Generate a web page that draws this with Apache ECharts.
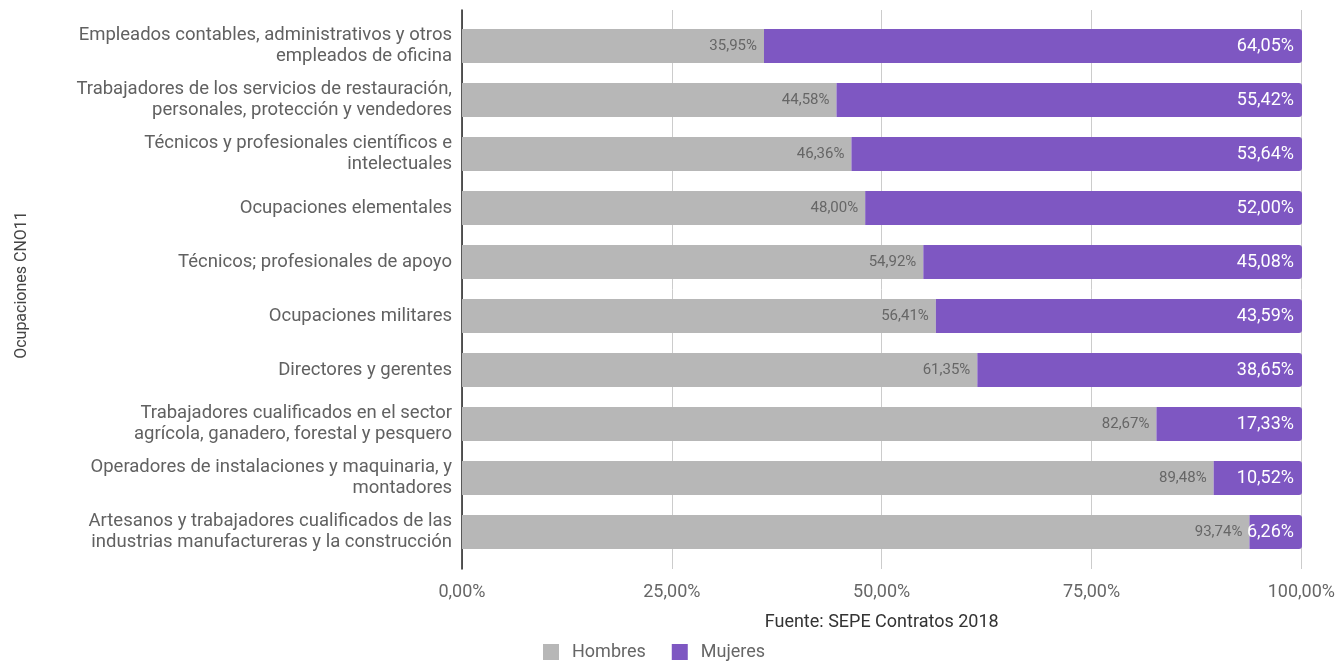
<!DOCTYPE html>
<html>
<head>
<meta charset="utf-8">
<script src="https://cdn.jsdelivr.net/npm/echarts@6/dist/echarts.min.js"></script>
<style>html,body{margin:0;padding:0;background:#fff}#c{width:1338px;height:661px}</style>
</head>
<body>
<div id="c"></div>
<script>
const categories = [
  "Empleados contables, administrativos y otros\nempleados de oficina",
  "Trabajadores de los servicios de restauración,\npersonales, protección y vendedores",
  "Técnicos y profesionales científicos e\nintelectuales",
  "Ocupaciones elementales",
  "Técnicos; profesionales de apoyo",
  "Ocupaciones militares",
  "Directores y gerentes",
  "Trabajadores cualificados en el sector\nagrícola, ganadero, forestal y pesquero",
  "Operadores de instalaciones y maquinaria, y\nmontadores",
  "Artesanos y trabajadores cualificados de las\nindustrias manufactureras y la construcción"
];
const hombres = [35.95, 44.58, 46.36, 48.00, 54.92, 56.41, 61.35, 82.67, 89.48, 93.74];
const mujeres = [64.05, 55.42, 53.64, 52.00, 45.08, 43.59, 38.65, 17.33, 10.52, 6.26];
const xTicks = [0, 25, 50, 75, 100];

const fmt = v => v.toFixed(2).replace('.', ',') + '%';
const chart = echarts.init(document.getElementById('c'));
chart.setOption({
  animation: false,
  textStyle: { fontFamily: 'Roboto' },
  grid: [
    { left: 462, right: 36, top: 10, bottom: 92 },
    { left: 462, right: 36, top: 19, bottom: 102 }
  ],
  legend: {
    top: 643, left: 543, padding: 0, itemWidth: 16, itemHeight: 16, itemGap: 26,
    icon: 'rect',
    textStyle: { fontSize: 18, color: '#666', fontFamily: 'Roboto', padding: [0, 0, 0, 8] },
    data: ['Hombres', 'Mujeres']
  },
  xAxis: [
    {
      gridIndex: 0, type: 'value', min: 0, max: 100, interval: 25,
      name: 'Fuente: SEPE Contratos 2018', nameLocation: 'middle', nameGap: 44,
      nameTextStyle: { fontSize: 18, color: '#333', fontFamily: 'Roboto' },
      axisLabel: { formatter: v => xTicks.includes(v) ? fmt(v) : '', fontSize: 18, color: '#666', margin: 14 },
      axisLine: { show: false }, axisTick: { show: false },
      splitLine: { lineStyle: { color: '#cccccc', width: 1 } }
    },
    {
      gridIndex: 1, type: 'value', min: 0, max: 100, show: false
    }
  ],
  yAxis: [
    {
      gridIndex: 0, type: 'category', data: categories, inverse: true,
      axisLabel: { show: false },
      axisLine: { show: true, lineStyle: { color: '#222', width: 1.5 } },
      axisTick: { show: false }, splitLine: { show: false }
    },
    {
      gridIndex: 1, type: 'category', data: categories, inverse: true,
      name: 'Ocupaciones CNO11', nameLocation: 'middle', nameRotate: 90, nameGap: 432,
      nameTextStyle: { fontSize: 16, color: '#444', fontFamily: 'Roboto', padding: [0, 0, 0, 8] },
      axisLabel: { fontSize: 18.5, color: '#616161', lineHeight: 21, margin: 10, align: 'right', padding: [3, 0, 0, 0] },
      axisLine: { show: false },
      axisTick: { show: false }
    }
  ],
  series: [
    {
      name: 'Hombres', type: 'bar', stack: 't', data: hombres, barWidth: 34,
      xAxisIndex: 1, yAxisIndex: 1,
      itemStyle: { color: '#b7b7b7' },
      label: { show: true, position: 'insideRight', formatter: p => fmt(p.value), color: '#666', fontSize: 15, distance: 7 }
    },
    {
      name: 'Mujeres', type: 'bar', stack: 't', data: mujeres, barWidth: 34,
      xAxisIndex: 1, yAxisIndex: 1,
      itemStyle: { color: '#7e57c2', borderRadius: [0, 3, 3, 0] },
      label: { show: true, position: 'insideRight', formatter: p => fmt(p.value), color: '#fff', fontSize: 18, distance: 8 }
    }
  ]
});
</script>
</body>
</html>
